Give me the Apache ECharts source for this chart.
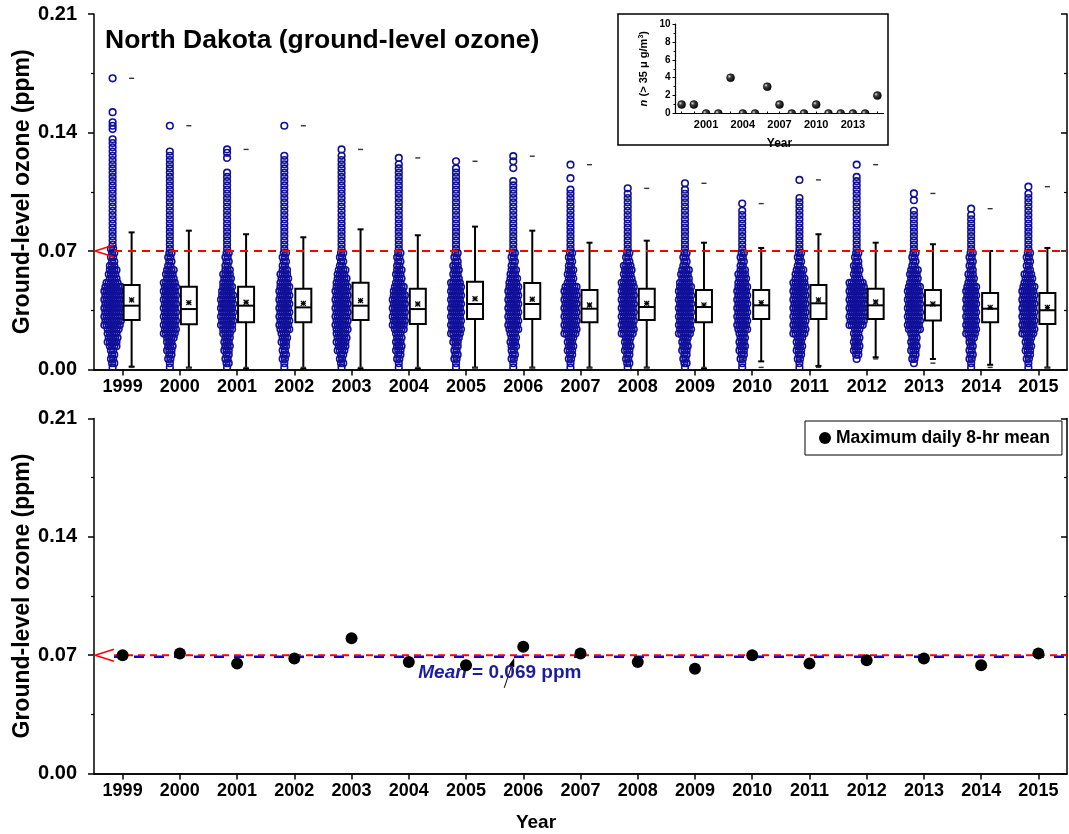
<!DOCTYPE html>
<html>
<head>
<meta charset="utf-8">
<script src="https://cdn.jsdelivr.net/npm/echarts@6/dist/echarts.min.js"></script>
<style>
html, body { margin: 0; padding: 0; background: #fff; }
#chart { width: 1069px; height: 834px; }
</style>
</head>
<body>
<div id="chart"></div>
<script>
// ---- Data -------------------------------------------------------------
const YEARS = ['1999','2000','2001','2002','2003','2004','2005','2006','2007',
               '2008','2009','2010','2011','2012','2013','2014','2015'];

// Daily ozone (ppm): circles per 0.0025-ppm bin, bins centred from 0.00125 ppm upward
const BIN_START = 0.00125;
const BIN_STEP = 0.0025;
const swarmCounts = [
  [1,2,2,2,2,4,5,5,5,6,8,8,8,8,8,8,8,8,8,8,6,4,4,4,3,2,2,2,2,1,1,1,1,1,1,1,1,1,1,1,1,1,1,1,1,1,1,1,1,1,1,1,1,1],
  [1,1,2,2,3,3,3,4,6,6,6,6,6,6,6,6,6,6,6,6,6,4,4,4,2,2,2,2,1,1,1,1,1,1,1,1,1,1,1,1,1,1,1,1,1,1,1,1,1,1,1,1],
  [1,2,2,2,3,3,3,3,4,5,6,6,6,6,6,6,6,6,5,5,4,4,4,3,2,2,2,2,1,1,1,1,1,1,1,1,1,1,1,1,1,1,1,1,1,1,1],
  [1,1,2,2,2,2,3,3,3,5,5,5,5,5,5,5,5,5,5,5,4,4,4,3,2,2,2,2,1,1,1,1,1,1,1,1,1,1,1,1,1,1,1,1,1,1,1,1,1,1,1],
  [1,2,2,2,4,4,5,5,5,6,6,6,6,6,6,6,6,6,6,6,5,5,4,4,2,2,2,2,1,1,1,1,1,1,1,1,1,1,1,1,1,1,1,1,1,1,1,1,1,1,1],
  [1,1,2,2,3,3,3,3,3,5,6,6,6,6,6,6,6,6,5,5,3,3,3,3,2,2,2,2,1,1,1,1,1,1,1,1,1,1,1,1,1,1,1,1,1,1,1,1,1],
  [1,1,2,2,2,2,3,3,5,5,5,5,5,5,5,5,5,5,5,5,5,3,3,3,3,2,2,2,1,1,1,1,1,1,1,1,1,1,1,1,1,1,1,1,1,1,1,1],
  [1,1,2,2,2,3,3,3,3,5,5,5,5,5,5,5,5,5,5,5,4,4,3,3,2,2,2,2,1,1,1,1,1,1,1,1,1,1,1,1,1,1,1,1,1],
  [1,1,2,2,3,3,3,3,6,6,6,6,6,6,6,6,6,6,6,6,3,3,3,3,2,2,2,2,1,1,1,1,1,1,1,1,1,1,1,1,1,1,1],
  [1,2,2,2,3,3,3,3,6,6,6,6,6,6,6,6,6,6,6,6,6,4,4,4,4,2,2,2,1,1,1,1,1,1,1,1,1,1,1,1,1,1],
  [1,2,2,2,3,3,3,3,6,6,6,6,6,6,6,6,6,6,6,6,5,4,4,4,2,2,2,2,1,1,1,1,1,1,1,1,1,1,1,1,1,1,1],
  [1,1,2,2,3,3,3,3,3,5,5,5,5,5,5,5,5,5,5,5,4,4,4,3,2,2,2,2,1,1,1,1,1,1,1,1,1,1],
  [1,1,2,2,3,3,3,3,6,6,6,6,6,6,6,6,6,6,6,6,6,5,4,4,2,2,2,2,1,1,1,1,1,1,1,1,1,1,1,1,1],
  [0,0,1,2,3,3,3,3,3,3,7,7,7,7,7,7,7,7,7,7,7,3,3,3,3,2,2,2,1,1,1,1,1,1,1,1,1,1,1,1,1,1,1,1,1,1],
  [0,1,2,2,3,3,3,3,3,6,6,6,6,6,6,6,6,6,6,6,4,4,4,4,2,2,2,2,1,1,1,1,1,1,1,1,1,1],
  [1,1,2,2,2,2,2,3,5,5,5,5,5,5,5,5,5,5,5,5,3,3,3,2,2,2,2,2,1,1,1,1,1,1,1,1,1],
  [1,1,2,2,3,3,3,3,6,6,6,6,6,6,6,6,6,6,6,6,4,4,4,2,2,2,2,2,1,1,1,1,1,1,1,1,1,1,1,1,1,1]
];
// Isolated high daily values (ppm)
const swarmPeaks = [
  [0.136,0.142,0.144,0.146,0.152,0.172],
  [0.144],
  [0.125,0.128,0.130],
  [0.144],
  [0.130],
  [0.125],
  [0.123],
  [0.119,0.123,0.126],
  [0.113,0.121],
  [0.107],
  [0.110],
  [0.098],
  [0.112],
  [0.121],
  [0.100,0.104],
  [0.095],
  [0.108]
];

// Box statistics (ppm)
const whiskerLow  = [0.0017,0.0011,0.0005,0.0005,0.0005,0.0005,0.0011,0.0011,0.0011,0.0011,0.0005,0.0048,0.0021,0.0072,0.0062,0.0028,0.0011];
const quartile1   = [0.0292,0.0267,0.0279,0.0279,0.0292,0.0269,0.0298,0.0298,0.0279,0.0292,0.0279,0.0298,0.0298,0.0298,0.0289,0.0279,0.0269];
const medianDaily = [0.0377,0.0357,0.0377,0.0367,0.0377,0.0357,0.0387,0.0387,0.0359,0.0369,0.0369,0.0379,0.0391,0.0379,0.0379,0.0359,0.0350];
const quartile3   = [0.0499,0.0489,0.0489,0.0477,0.0513,0.0477,0.0519,0.0511,0.0470,0.0477,0.0470,0.0470,0.0499,0.0477,0.0470,0.0452,0.0452];
const whiskerHigh = [0.0810,0.0820,0.0799,0.0781,0.0828,0.0793,0.0844,0.0820,0.0749,0.0761,0.0749,0.0718,0.0799,0.0749,0.0740,0.0700,0.0718];
const meanDaily   = [0.0411,0.0395,0.0397,0.0391,0.0407,0.0387,0.0418,0.0415,0.0381,0.0391,0.0381,0.0395,0.0411,0.0399,0.0387,0.0367,0.0367];

// Maximum daily 8-hr mean per year (ppm)
const maxDaily8hr = [0.070,0.071,0.065,0.068,0.080,0.066,0.064,0.075,0.071,0.066,0.062,0.070,0.065,0.067,0.068,0.064,0.071];
const NAAQS_8HR = 0.070;
const MEAN_8HR = 0.069;

// Days above 35 µg/m³ per year (inset)
const exceedDays = [1,1,0,0,4,0,0,3,1,0,0,1,0,0,0,0,2];

const OZONE_MIN = 0, OZONE_MAX = 0.21, OZONE_STEP = 0.07;

// ---- Layout constants ---------------------------------------------------
const FONT = "'Liberation Sans', Arial, sans-serif";
const SWARM_OFFSET = -10;   // px left of the category centre
const SWARM_SPREAD = 2.2;   // px between circles on a row
const BOX_OFFSET = 9;       // px right of the category centre
const BOX_W = 16;

// ---- Derived series data ----------------------------------------------
const swarmData = [];
swarmCounts.forEach((row, i) => {
  row.forEach((n, k) => {
    const v = BIN_START + k * BIN_STEP;
    for (let j = 0; j < n; j++) swarmData.push([i, v, j, n, k % 2]);
  });
  swarmPeaks[i].forEach(v => swarmData.push([i, v, 0, 1, 0]));
});

const boxData = YEARS.map((y, i) => {
  let lo = Infinity, hi = -Infinity;
  swarmCounts[i].forEach((n, k) => { if (n > 0) { const v = BIN_START + k * BIN_STEP; lo = Math.min(lo, v); hi = Math.max(hi, v); } });
  swarmPeaks[i].forEach(v => { hi = Math.max(hi, v); });
  return [i, whiskerLow[i], quartile1[i], medianDaily[i], quartile3[i], whiskerHigh[i], meanDaily[i], lo, hi];
});

const exceedData = exceedDays.map((n, i) => [i, n]);

// ---- Renderers ----------------------------------------------------------
function renderSwarm(params, api) {
  const p = api.coord([api.value(0), api.value(1)]);
  const j = api.value(2), n = api.value(3), odd = api.value(4);
  const shift = (n > 1 && odd) ? SWARM_SPREAD / 2 : 0;
  const dx = SWARM_OFFSET + (j - (n - 1) / 2) * SWARM_SPREAD + shift - (n > 1 ? SWARM_SPREAD / 4 : 0);
  return {
    type: 'circle',
    shape: { cx: p[0] + dx, cy: p[1], r: 3.3 },
    style: { fill: 'none', stroke: '#10109a', lineWidth: 1.6 }
  };
}

function renderBox(params, api) {
  const i = api.value(0);
  const c = api.coord([i, 0])[0] + BOX_OFFSET;
  const y = v => api.coord([i, v])[1];
  const lo = y(api.value(1)), a = y(api.value(2)), m = y(api.value(3)),
        b = y(api.value(4)), hi = y(api.value(5)), mu = y(api.value(6)),
        mn = y(api.value(7)), mx = y(api.value(8));
  const hw = BOX_W / 2, cw = 3, st = 2.5;
  const line = (x1, y1, x2, y2, w, col) => ({
    type: 'line', shape: { x1, y1, x2, y2 },
    style: { stroke: col || '#000', lineWidth: w || 2 }
  });
  return {
    type: 'group',
    children: [
      line(c, hi, c, b),
      line(c, a, c, lo),
      line(c - cw, hi, c + cw, hi),
      line(c - cw, lo, c + cw, lo),
      { type: 'rect', shape: { x: c - hw, y: b, width: BOX_W, height: a - b },
        style: { fill: '#ffffff', stroke: '#000', lineWidth: 2 } },
      line(c - hw, m, c + hw, m),
      line(c - st, mu - st, c + st, mu + st, 1.2),
      line(c - st, mu + st, c + st, mu - st, 1.2),
      line(c, mu - st, c, mu + st, 1.2),
      line(c - st, mu, c + st, mu, 1.2),
      line(c - 2.5, mx, c + 2.5, mx, 1.4, '#333'),
      line(c - 2.5, mn, c + 2.5, mn, 1.4, '#333')
    ]
  };
}

function standardLine(cs, yPix, dash) {
  return [
    { type: 'polyline', shape: { points: [[cs.x + 20, yPix - 6], [cs.x + 1, yPix], [cs.x + 20, yPix + 6]] },
      style: { stroke: '#ff0000', lineWidth: 1.5, fill: null } },
    { type: 'line', shape: { x1: cs.x + 20, y1: yPix, x2: cs.x + cs.width, y2: yPix },
      style: { stroke: '#ff0000', lineWidth: 2, lineDash: dash } }
  ];
}

function renderStandardTop(params, api) {
  const cs = params.coordSys;
  const yPix = api.coord([0, api.value(1)])[1];
  return { type: 'group', children: standardLine(cs, yPix, [8, 6]) };
}

function renderStandardBottom(params, api) {
  const cs = params.coordSys;
  const yStd = api.coord([0, api.value(1)])[1];
  const yMean = api.coord([0, api.value(2)])[1];
  const tipX = api.coord([7, api.value(2)])[0] - 9;
  const tipY = yMean + 1;
  const tail = [tipX - 10, tipY + 30];
  const dx = tipX - tail[0], dy = tipY - tail[1];
  const len = Math.sqrt(dx * dx + dy * dy), ux = dx / len, uy = dy / len;
  const hb = [tipX - ux * 9, tipY - uy * 9];
  return {
    type: 'group',
    children: [
      { type: 'line', shape: { x1: cs.x + 20, y1: yMean, x2: cs.x + cs.width, y2: yMean },
        style: { stroke: '#0000ff', lineWidth: 2.5, lineDash: [10, 10] } },
      ...standardLine(cs, yStd, [7, 5]),
      { type: 'line', shape: { x1: tail[0], y1: tail[1], x2: hb[0], y2: hb[1] },
        style: { stroke: '#000', lineWidth: 1 } },
      { type: 'polygon', shape: { points: [[tipX, tipY], [hb[0] - uy * 3, hb[1] + ux * 3], [hb[0] + uy * 3, hb[1] - ux * 3]] },
        style: { fill: '#000' } },
      { type: 'text', x: tipX - 96, y: tipY + 15,
        style: {
          text: '{i|Mean} = ' + api.value(2).toFixed(3) + ' ppm',
          fill: '#1c1ca0', font: 'bold 19px ' + FONT, verticalAlign: 'middle',
          rich: { i: { fontStyle: 'italic', fontWeight: 'bold', fontSize: 19, fontFamily: FONT, fill: '#1c1ca0' } }
        } }
    ]
  };
}

const sphere = new echarts.graphic.RadialGradient(0.35, 0.35, 0.7, [
  { offset: 0, color: '#e6e6e6' }, { offset: 0.3, color: '#404040' }, { offset: 1, color: '#000000' }
]);

function renderExceed(params, api) {
  const p = api.coord([api.value(0), api.value(1)]);
  return {
    type: 'circle', shape: { cx: p[0], cy: p[1], r: 4 },
    style: { fill: sphere, stroke: '#000', lineWidth: 0.5 }
  };
}

// ---- Axes ---------------------------------------------------------------
const AXIS_LINE = { show: true, lineStyle: { color: '#000', width: 1.5 } };

function catAxis(gridIndex, showLabels, position) {
  return {
    type: 'category', gridIndex, data: YEARS, position,
    boundaryGap: true,
    axisLine: AXIS_LINE,
    axisTick: { show: true, alignWithLabel: true, inside: position === 'top', length: 6,
                lineStyle: { color: '#000', width: 1.5 } },
    axisLabel: { show: showLabels, color: '#000', fontWeight: 'bold', fontSize: 18, fontFamily: FONT, margin: 9 },
    splitLine: { show: false }
  };
}

function valAxis(gridIndex, position) {
  const left = position === 'left';
  return {
    type: 'value', gridIndex, position,
    min: OZONE_MIN, max: OZONE_MAX, interval: OZONE_STEP,
    axisLine: AXIS_LINE,
    axisTick: { show: true, inside: !left, length: 6, lineStyle: { color: '#000', width: 1.5 } },
    minorTick: { show: true, splitNumber: 2, length: 3, lineStyle: { color: '#000', width: 1.2 } },
    axisLabel: { show: left, color: '#000', fontWeight: 'bold', fontSize: 20, fontFamily: FONT, margin: 17,
                 formatter: v => v.toFixed(2) },
    splitLine: { show: false },
    name: left ? 'Ground-level ozone (ppm)' : '',
    nameLocation: 'middle', nameGap: 60, nameRotate: 90, nameMoveOverlap: false,
    nameTextStyle: { color: '#000', fontWeight: 'bold', fontSize: 23, fontFamily: FONT }
  };
}

const insetLabel = { color: '#000', fontWeight: 'bold', fontSize: 10, fontFamily: FONT };

const option = {
  animation: false,
  backgroundColor: '#ffffff',
  title: {
    text: 'North Dakota (ground-level ozone)',
    left: 105, top: 27, padding: 0,
    textStyle: { color: '#000', fontWeight: 'bold', fontSize: 26.5, fontFamily: FONT }
  },
  legend: {
    data: ['Maximum daily 8-hr mean'],
    left: 805, top: 421,
    padding: [8, 12, 8, 14],
    itemWidth: 12, itemHeight: 12, itemGap: 10,
    borderColor: '#000', borderWidth: 1,
    textStyle: { color: '#000', fontWeight: 'bold', fontSize: 17.5, fontFamily: FONT }
  },
  graphic: [
    { type: 'rect', z: -1, shape: { x: 618, y: 14, width: 270, height: 131 },
      style: { fill: '#ffffff', stroke: '#000', lineWidth: 1.5 } },
    { type: 'text', x: 536, y: 823,
      style: { text: 'Year', fill: '#000', font: 'bold 19px ' + FONT, align: 'center', verticalAlign: 'middle' } }
  ],
  grid: [
    { left: 94, top: 14, width: 973, height: 355.5, outerBoundsMode: 'none' },
    { left: 94, top: 418.5, width: 973, height: 355, outerBoundsMode: 'none' },
    { left: 675.5, top: 24, width: 208, height: 89.5, outerBoundsMode: 'none' }
  ],
  xAxis: [
    catAxis(0, true, 'bottom'),
    catAxis(0, false, 'top'),
    catAxis(1, true, 'bottom'),
    catAxis(1, false, 'top'),
    {
      type: 'category', gridIndex: 2, data: YEARS, boundaryGap: true,
      axisLine: { show: true, lineStyle: { color: '#000', width: 1.2 } },
      axisTick: { show: true, alignWithLabel: true, inside: true, length: 2, interval: 0,
                  lineStyle: { color: '#000', width: 1 } },
      axisLabel: Object.assign({}, insetLabel, { interval: 0, margin: 6, fontSize: 11,
        formatter: (v, idx) => ((idx - 2) % 3 === 0 ? v : '') }),
      name: 'Year', nameLocation: 'middle', nameGap: 24, nameMoveOverlap: false,
      nameTextStyle: { color: '#000', fontWeight: 'bold', fontSize: 12, fontFamily: FONT }
    }
  ],
  yAxis: [
    valAxis(0, 'left'),
    valAxis(0, 'right'),
    valAxis(1, 'left'),
    valAxis(1, 'right'),
    {
      type: 'value', gridIndex: 2, min: 0, max: 10, interval: 2,
      axisLine: { show: true, lineStyle: { color: '#000', width: 1.2 } },
      axisTick: { show: true, length: 3, lineStyle: { color: '#000', width: 1 } },
      minorTick: { show: true, splitNumber: 2, length: 2, lineStyle: { color: '#000', width: 1 } },
      axisLabel: Object.assign({ margin: 5 }, insetLabel),
      splitLine: { show: false },
      name: '{i|n} {b|(> 35 \u03bc g/m}{s|3}{b|)}',
      nameLocation: 'middle', nameGap: 26, nameRotate: 90,
      nameTextStyle: {
        color: '#000', fontFamily: FONT,
        rich: {
          i: { fontStyle: 'italic', fontWeight: 'bold', fontSize: 11, fontFamily: FONT, color: '#000' },
          b: { fontWeight: 'bold', fontSize: 11, fontFamily: FONT, color: '#000' },
          s: { fontWeight: 'bold', fontSize: 7, fontFamily: FONT, color: '#000', verticalAlign: 'top' }
        }
      }
    }
  ],
  series: [
    {
      name: 'Daily', type: 'custom', xAxisIndex: 0, yAxisIndex: 0,
      renderItem: renderSwarm, data: swarmData, encode: { x: 0, y: 1 }, z: 2, clip: true
    },
    {
      name: 'Box', type: 'custom', xAxisIndex: 0, yAxisIndex: 0,
      renderItem: renderBox, data: boxData, encode: { x: 0, y: [1, 8] }, z: 3
    },
    {
      name: 'Standard', type: 'custom', xAxisIndex: 0, yAxisIndex: 0,
      renderItem: renderStandardTop, data: [[0, NAAQS_8HR]], encode: { x: 0, y: 1 }, z: 4, silent: true
    },
    {
      name: 'Maximum daily 8-hr mean', type: 'scatter', xAxisIndex: 2, yAxisIndex: 2,
      data: maxDaily8hr, symbol: 'circle', symbolSize: 12,
      itemStyle: { color: '#000', opacity: 1 }, z: 5
    },
    {
      name: 'Reference', type: 'custom', xAxisIndex: 2, yAxisIndex: 2,
      renderItem: renderStandardBottom, data: [[0, NAAQS_8HR, MEAN_8HR]], encode: { x: 0, y: 1 }, z: 4, silent: true
    },
    {
      name: 'Exceedance days', type: 'custom', xAxisIndex: 4, yAxisIndex: 4,
      renderItem: renderExceed, data: exceedData, encode: { x: 0, y: 1 }, clip: true, z: 6
    }
  ]
};

const chart = echarts.init(document.getElementById('chart'), null, { renderer: 'canvas' });
chart.setOption(option);
</script>
</body>
</html>
